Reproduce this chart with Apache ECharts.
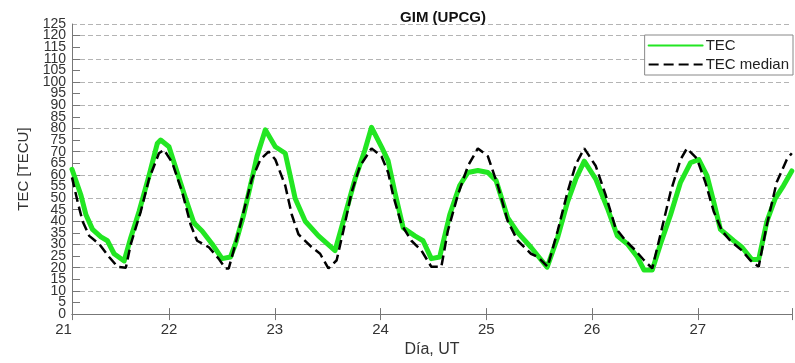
<!DOCTYPE html>
<html><head><meta charset="utf-8">
<script src="https://cdn.jsdelivr.net/npm/echarts@6/dist/echarts.min.js"></script>
<style>html,body{margin:0;padding:0;background:#fff}#c{width:795px;height:363px}</style>
</head><body><div id="c"></div>
<script>
const xTicks = [21, 22, 23, 24, 25, 26, 27];
const yTicks = [0,5,10,15,20,25,30,35,40,45,50,55,60,65,70,75,80,85,90,95,100,105,110,115,120,125];
const xMin = 21.083, xMax = 27.89;

const tecDays = [21.083,21.168,21.215,21.277,21.356,21.418,21.481,21.576,21.639,21.717,21.811,21.889,21.921,22.000,22.078,22.157,22.235,22.313,22.408,22.502,22.581,22.628,22.706,22.784,22.832,22.911,23.005,23.099,23.146,23.193,23.288,23.413,23.570,23.648,23.759,23.853,23.915,24.009,24.072,24.135,24.214,24.324,24.402,24.480,24.559,24.654,24.748,24.826,24.920,25.015,25.093,25.203,25.297,25.422,25.575,25.674,25.768,25.846,25.926,26.035,26.145,26.239,26.334,26.428,26.491,26.569,26.647,26.742,26.836,26.930,27.009,27.087,27.150,27.213,27.339,27.417,27.511,27.575,27.653,27.731,27.810,27.888];
const tecValues = [62.4,51.2,42.8,36.5,33.3,31.6,26,22.9,33,44.2,59.6,73.5,75,72.1,61,49.8,39.3,35.8,30.2,23.9,24.6,30.2,42.8,58.2,68,79.4,72.1,69.3,59.6,49.8,40,33.7,27.4,40,58.2,70.8,80.5,72.1,66,52.6,37.2,33.7,31.6,23.9,24.6,42.8,55.4,61,61.9,61,57.5,41.4,35.1,28.8,20.2,33,48.4,58.2,65.9,58.2,45.6,33.7,30.2,24.6,19,19,30.2,42.8,56.8,65.2,66.6,59.6,48.4,36.5,31.6,28.8,23.5,23.5,40,49.8,55.4,61.7];

const medDays = [21.083,21.136,21.183,21.246,21.340,21.434,21.513,21.592,21.639,21.733,21.811,21.905,21.953,22.031,22.125,22.204,22.266,22.377,22.469,22.534,22.565,22.628,22.706,22.784,22.864,22.942,23.005,23.099,23.161,23.224,23.350,23.429,23.507,23.585,23.648,23.727,23.806,23.915,24.009,24.072,24.119,24.198,24.292,24.386,24.480,24.575,24.636,24.730,24.826,24.920,25.015,25.109,25.203,25.297,25.422,25.489,25.580,25.674,25.768,25.846,25.926,26.035,26.129,26.221,26.317,26.411,26.491,26.569,26.647,26.742,26.836,26.897,26.991,27.071,27.150,27.229,27.307,27.417,27.495,27.575,27.653,27.745,27.841,27.888];
const medValues = [58.9,48.4,40,33.7,30.2,24.6,20.4,20,30.2,44.2,58.2,69.3,70.8,65.2,52.6,38.6,31.6,28.8,23.9,19.7,19.7,30.2,44.2,58.2,66.6,70,66.6,55.4,42.8,34.4,28.8,26,19.7,23.2,35.8,52.6,63.8,71.4,68,61,51.2,38.6,31.6,27.4,20.4,20.4,35.8,51.2,63.8,71.4,68,55.4,40,31.6,26,24.6,20.4,35.8,52.6,64.5,71.4,63.8,51.2,37.2,31.6,27.4,23.2,19.7,34.4,52.6,66.6,71.4,67,56.8,44.2,35.8,31.6,27.4,23.2,20.4,38.6,56.8,66.6,69.3];

const zip = (a, b) => a.map((v, i) => [v, b[i]]);
const chart = echarts.init(document.getElementById('c'));
const axisCol = '#777';
const txtCol = '#333';
const fontFam = 'Liberation Sans, Arial, sans-serif';
const yMin = yTicks[0], yMax = yTicks[yTicks.length - 1];

function xLabel(v) {
  const r = Math.round(v);
  if (Math.abs(v - r) < 1e-6 && xTicks.indexOf(r) >= 0) return String(r);
  if (Math.abs(v - xMin) < 1e-6) return '{m|' + xTicks[0] + '}';
  return '';
}
const yLabelStyle = { margin: 6, fontSize: 14, color: txtCol, fontFamily: fontFam };

chart.setOption({
  animation: false,
  backgroundColor: '#fff',
  title: {
    text: 'GIM (UPCG)', left: 438, top: 5, textAlign: 'center',
    textStyle: { fontSize: 15, fontWeight: 'bold', color: '#111', fontFamily: fontFam }
  },
  legend: {
    orient: 'vertical', right: 2, top: 35,
    backgroundColor: '#fff', borderColor: '#888', borderWidth: 1,
    padding: [3, 4, 3, 3], itemGap: 4, itemWidth: 54, itemHeight: 14,
    itemStyle: { opacity: 0 },
    textStyle: { fontSize: 15, color: '#222', fontFamily: fontFam, padding: [0, 0, 0, -2] },
    data: ['TEC', 'TEC median']
  },
  grid: { left: 72, right: 0, top: 24, bottom: 41 },
  xAxis: [{
    type: 'value', min: xMin, max: xMax, minInterval: 1, maxInterval: 1,
    name: 'Día, UT', nameLocation: 'middle', nameGap: 26,
    nameTextStyle: { fontSize: 16, color: txtCol, fontFamily: fontFam },
    axisLine: { show: true, lineStyle: { color: axisCol, width: 1 } },
    axisTick: { show: true, inside: true, length: 6, lineStyle: { color: axisCol } },
    axisLabel: {
      show: true, showMinLabel: true, showMaxLabel: true, margin: 8,
      fontSize: 15, color: txtCol, fontFamily: fontFam, formatter: xLabel,
      rich: { m: { fontSize: 15, color: txtCol, fontFamily: fontFam, padding: [0, 17, 0, 0] } }
    },
    splitLine: { show: false }
  }, {
    type: 'value', position: 'top', min: xMin, max: xMax, minInterval: 1, maxInterval: 1,
    axisLine: { show: true, lineStyle: { color: axisCol, width: 1 } },
    axisTick: { show: true, inside: true, length: 6, lineStyle: { color: axisCol } },
    axisLabel: { show: false }, splitLine: { show: false }
  }],
  yAxis: [{
    type: 'value', position: 'left', min: yMin, max: yMax, interval: yTicks[1] - yTicks[0],
    name: 'TEC [TECU]', nameLocation: 'middle', nameGap: 33,
    nameTextStyle: { fontSize: 15, color: txtCol, fontFamily: fontFam },
    axisLine: { show: true, lineStyle: { color: axisCol, width: 1 } },
    axisTick: { show: true, inside: true, length: 8, lineStyle: { color: axisCol } },
    axisLabel: Object.assign({ show: true, showMinLabel: false, showMaxLabel: false }, yLabelStyle),
    splitLine: { show: false }
  }, {
    type: 'value', position: 'left', offset: 0, min: yMin, max: yMax, interval: 10,
    axisLine: { show: false }, axisTick: { show: false }, axisLabel: { show: false },
    splitLine: { show: true, lineStyle: { color: '#b4b4b4', width: 1, type: [5, 3] } }
  }, {
    type: 'value', position: 'left', offset: 0, min: yMin, max: yMax, interval: yMax - yMin,
    axisLine: { show: false }, axisTick: { show: false }, splitLine: { show: false },
    axisLabel: Object.assign({ show: true, showMinLabel: true, showMaxLabel: true }, yLabelStyle)
  }],
  series: [{
    name: 'TEC', type: 'line', data: zip(tecDays, tecValues),
    xAxisIndex: 0, yAxisIndex: 0, symbol: 'none', smooth: false,
    lineStyle: { color: '#22e622', width: 5, cap: 'round', join: 'round' },
    itemStyle: { color: '#22e622' }, z: 3
  }, {
    name: 'TEC median', type: 'line', data: zip(medDays, medValues),
    xAxisIndex: 0, yAxisIndex: 0, symbol: 'none', smooth: false,
    lineStyle: { color: '#000', width: 2.5, type: [10, 5] },
    itemStyle: { color: '#000' }, z: 4
  }]
});
</script>
</body></html>
